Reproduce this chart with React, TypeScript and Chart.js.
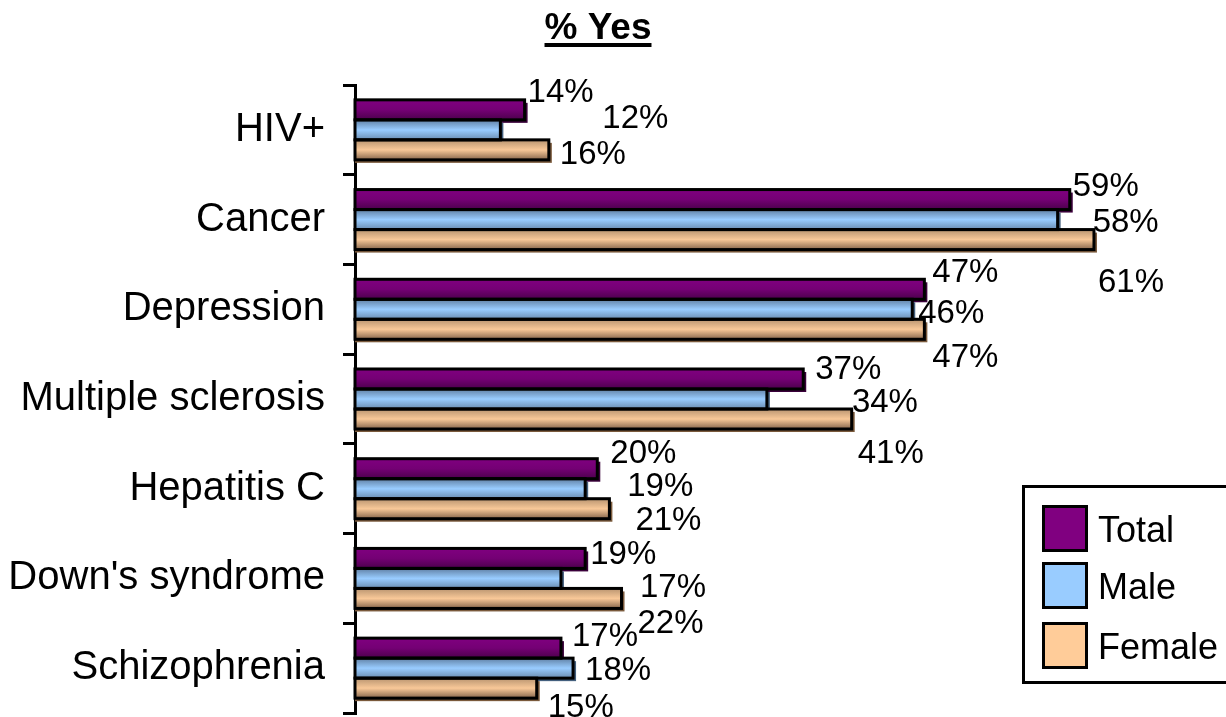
import React, { useEffect, useRef } from "react";
import { Chart, registerables } from "chart.js";

Chart.register(...registerables);

const FONT = '"Liberation Sans", Arial, Helvetica, sans-serif';

// Survey categories (top to bottom)
const categories = [
  "HIV+",
  "Cancer",
  "Depression",
  "Multiple sclerosis",
  "Hepatitis C",
  "Down's syndrome",
  "Schizophrenia",
];

// % answering "Yes"
const totalValues = [14, 59, 47, 37, 20, 19, 17];
const maleValues = [12, 58, 46, 34, 19, 17, 18];
const femaleValues = [16, 61, 47, 41, 21, 22, 15];

const seriesNames = ["Total", "Male", "Female"];

// Value-label nudges in px [dx from bar end, dy from bar centre]
const totalLabelNudge = [[3, -20], [3, -16], [8, -19], [12, -12], [13, -18], [5, -6], [11, -14]];
const maleLabelNudge = [[102, -14], [35, 0], [6, 2], [85, 1], [42, -5], [79, 7], [12, 0]];
const femaleLabelNudge = [[11, 2], [4, 40], [8, 26], [6, 32], [26, 9], [16, 23], [11, 17]];

const legendColors = ["#800080", "#99ccff", "#ffcc99"];
const shadowColors = ["#3a003a", "#44607e", "#7a5a3c"];
const gradientStops = [
  ["#800080", "#740074", "#4c004c"],
  ["#6080a4", "#99ccff", "#6a8cb0"],
  ["#b89470", "#f8c898", "#86664c"],
];

const labelNudges = [totalLabelNudge, maleLabelNudge, femaleLabelNudge];

const barStyling = {
  id: "barStyling",
  beforeDatasetsDraw(chart: any) {
    const ctx = chart.ctx;
    ctx.save();
    chart.data.datasets.forEach((_ds: any, di: number) => {
      const meta = chart.getDatasetMeta(di);
      meta.data.forEach((el: any) => {
        const top = el.y - el.height / 2;
        const bottom = el.y + el.height / 2;
        ctx.fillStyle = shadowColors[di];
        ctx.fillRect(el.base, top + 3, el.x - el.base + 3, el.height);
        const g = ctx.createLinearGradient(0, top, 0, bottom);
        const s = gradientStops[di];
        g.addColorStop(0, s[0]);
        g.addColorStop(0.5, s[1]);
        g.addColorStop(1, s[2]);
        el.options = { ...el.options, backgroundColor: g };
      });
    });
    ctx.restore();
  },
  afterDatasetsDraw(chart: any) {
    const ctx = chart.ctx;
    ctx.save();
    ctx.strokeStyle = "#000";
    ctx.lineWidth = 3;
    chart.data.datasets.forEach((_ds: any, di: number) => {
      const meta = chart.getDatasetMeta(di);
      meta.data.forEach((el: any) => {
        const top = el.y - el.height / 2;
        ctx.strokeRect(el.base, top, el.x - el.base, el.height);
      });
    });
    // value labels
    ctx.fillStyle = "#000";
    ctx.font = `33px ${FONT}`;
    ctx.textAlign = "left";
    ctx.textBaseline = "alphabetic";
    chart.data.datasets.forEach((ds: any, di: number) => {
      const meta = chart.getDatasetMeta(di);
      meta.data.forEach((el: any, i: number) => {
        const [dx, dy] = labelNudges[di][i];
        ctx.fillText(`${ds.data[i]}%`, el.x + dx, el.y + dy + 12);
      });
    });
    ctx.restore();
  },
  afterDraw(chart: any) {
    const ctx = chart.ctx;
    ctx.save();
    // title
    ctx.fillStyle = "#000";
    ctx.font = `bold 37px ${FONT}`;
    ctx.textAlign = "center";
    ctx.textBaseline = "alphabetic";
    const title = "% Yes";
    const tx = 598;
    ctx.fillText(title, tx, 39);
    const tw = ctx.measureText(title).width;
    ctx.fillRect(tx - tw / 2, 43, tw, 4);

    // legend
    ctx.fillStyle = "#fff";
    ctx.fillRect(1023.5, 486.5, 220, 196);
    ctx.strokeStyle = "#000";
    ctx.lineWidth = 3;
    ctx.strokeRect(1023.5, 486.5, 220, 196);
    ctx.font = `36px ${FONT}`;
    ctx.textAlign = "left";
    const rowTop = [506.5, 563.5, 623.5];
    chart.data.datasets.forEach((ds: any, di: number) => {
      const y = rowTop[di];
      ctx.fillStyle = legendColors[di];
      ctx.fillRect(1043.5, y, 43, 44);
      ctx.strokeRect(1043.5, y, 43, 44);
      ctx.fillStyle = "#000";
      ctx.fillText(ds.label, 1098, y + 35);
    });
    ctx.restore();
  },
};

export default function App() {
  const canvasRef = useRef<HTMLCanvasElement | null>(null);

  useEffect(() => {
    document.body.style.margin = "0";
    const canvas = canvasRef.current;
    if (!canvas) return;
    const seriesValues = [totalValues, maleValues, femaleValues];
    const chart = new Chart(canvas, {
      type: "bar",
      data: {
        labels: categories,
        datasets: seriesNames.map((name, i) => ({
          label: name,
          data: seriesValues[i],
          backgroundColor: legendColors[i],
          borderWidth: 0,
          categoryPercentage: 0.669,
          barPercentage: 1.0,
        })),
      },
      options: {
        indexAxis: "y",
        animation: false,
        responsive: false,
        devicePixelRatio: 1,
        layout: { padding: { top: 85, bottom: 4, right: 23, left: 0 } },
        plugins: {
          legend: { display: false },
          title: { display: false },
          tooltip: { enabled: false },
        },
        scales: {
          x: {
            display: false,
            min: 0,
            max: 70,
          },
          y: {
            afterFit(scale: any) {
              scale.width = 355;
              scale.paddingTop = 0;
              scale.paddingBottom = 0;
            },
            grid: {
              display: true,
              drawOnChartArea: false,
              drawTicks: true,
              tickLength: 12,
              color: "#000",
              lineWidth: 3,
              offset: true,
            },
            border: { display: true, color: "#000", width: 3 },
            ticks: {
              color: "#000",
              padding: 18,
              font: { family: FONT, size: 40 },
            },
          },
        },
      },
      plugins: [barStyling],
    } as any);
    return () => chart.destroy();
  }, []);

  return (
    <div style={{ width: 1226, height: 717, background: "#fff" }}>
      <canvas ref={canvasRef} width={1226} height={717} style={{ display: "block" }} />
    </div>
  );
}
